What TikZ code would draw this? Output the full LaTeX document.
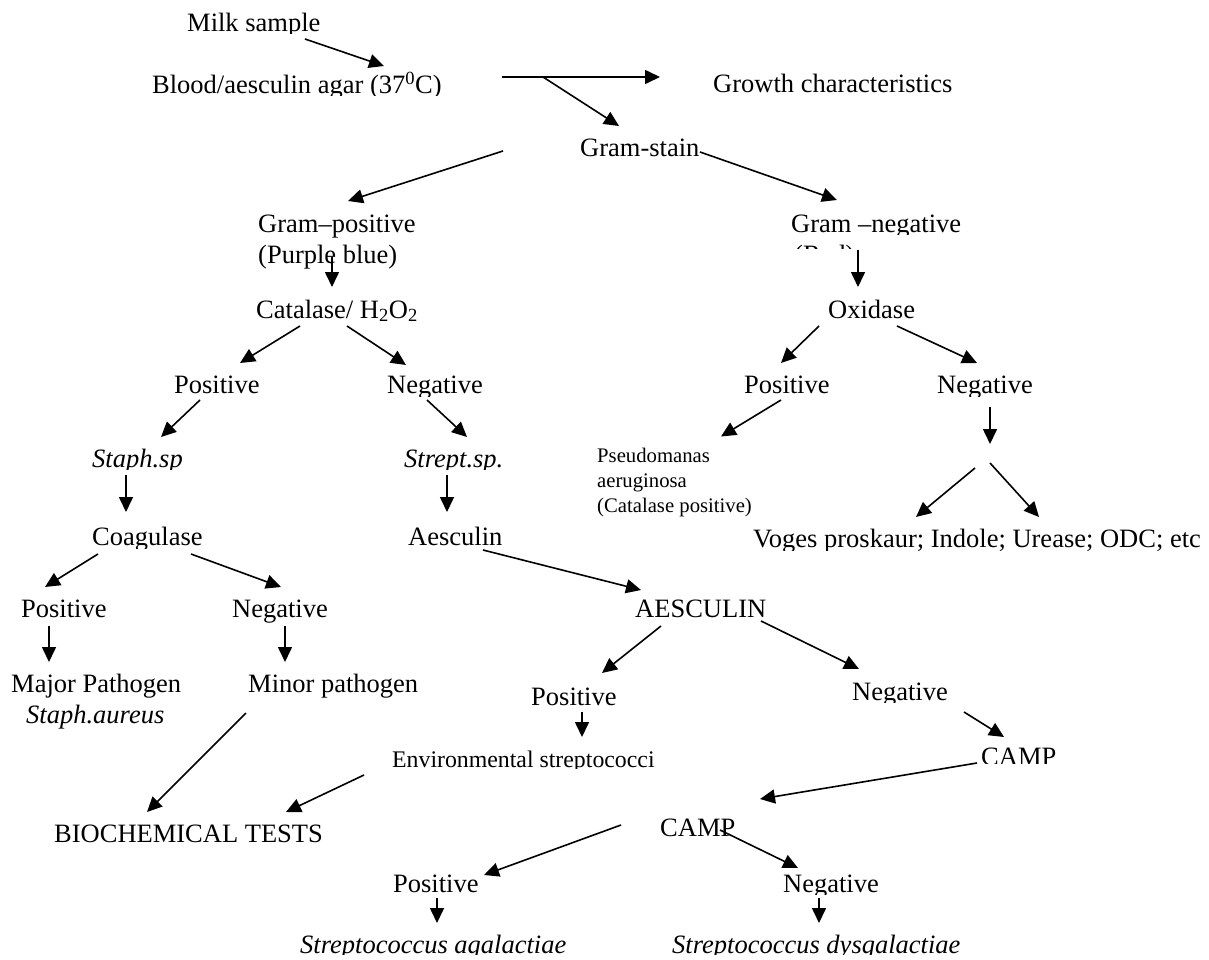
\documentclass[tikz,border=0pt]{standalone}
\usepackage{fontspec}
\setmainfont{Liberation Serif}
\usetikzlibrary{arrows.meta,calc}
\newcommand\cliptext[6]{\begin{scope}\clip (#3-30,#4-60) rectangle (#3+700,#5);\node[#1,anchor=base west] (#2) at (#3,#4) {#6};\end{scope}}
\tikzset{
 lbl/.style={inner sep=0pt, font=\fontsize{26.5}{30}\selectfont},
 lblit/.style={inner sep=0pt, font=\fontsize{26.5}{30}\selectfont\itshape},
 small/.style={inner sep=0pt, font=\fontsize{20.7}{25}\selectfont, align=left},
 mid/.style={inner sep=0pt, font=\fontsize{23.8}{28}\selectfont},
 arr/.style={line width=1.6pt, -{Triangle[length=15pt,width=14pt]}},
}
\begin{document}
\begin{tikzpicture}[x=1pt,y=-1pt]
\path[fill=white,use as bounding box] (0,0) rectangle (1209,960);
% nodes
\cliptext{lbl}{milk}{187}{32}{34}{Milk sample}
\cliptext{lbl}{blood}{152}{94}{96}{Blood/aesculin agar (37\textsuperscript{0}C)}
\node[lbl,anchor=base west] (growth) at (713,93) {Growth characteristics};
\node[lbl,anchor=base west] (gstain) at (580,157) {Gram-stain};
\node[lbl,anchor=base west] (gpos) at (258,232) {Gram–positive};
\node[lbl,anchor=base west] (purple) at (258,263) {(Purple blue)};
\cliptext{lbl}{gneg}{791}{232}{234}{Gram –negative}
\cliptext{lbl}{red}{794}{263}{248}{(Red)}
\cliptext{lbl}{cat}{256}{318}{321}{Catalase/ H\textsubscript{2}O\textsubscript{2}}
\node[lbl,anchor=base west] (oxi) at (828,318) {Oxidase};
\node[lbl,anchor=base west] (cpos) at (174,393) {Positive};
\cliptext{lbl}{cneg}{387}{393}{396}{Negative}
\node[lbl,anchor=base west] (opos) at (744,393) {Positive};
\cliptext{lbl}{oneg}{937}{393}{396}{Negative}
\cliptext{lblit}{staph}{92}{467}{469}{Staph.sp}
\cliptext{lblit}{strept}{404}{467}{469}{Strept.sp.}
\node[small,anchor=north west] (pseudo) at (597,447.5) {Pseudomanas\\aeruginosa\\(Catalase positive)};
\cliptext{lbl}{coag}{92}{545}{548}{Coagulase}
\node[lbl,anchor=base west] (aesc) at (408,545) {Aesculin};
\cliptext{lbl}{voges}{753}{547}{550}{Voges proskaur; Indole; Urease; ODC; etc}
\node[lbl,anchor=base west] (AESC) at (635,617) {AESCULIN};
\node[lbl,anchor=base west] (kpos) at (21,617) {Positive};
\node[lbl,anchor=base west] (kneg) at (232,617) {Negative};
\node[lbl,anchor=base west] (major) at (11,692) {Major Pathogen};
\node[lblit,anchor=base west] (saureus) at (26,723) {Staph.aureus};
\node[lbl,anchor=base west] (minor) at (248,692) {Minor pathogen};
\node[lbl,anchor=base west] (apos) at (531,705) {Positive};
\cliptext{lbl}{aneg}{852}{700}{702}{Negative}
\cliptext{mid}{env}{392}{767}{768}{Environmental streptococci}
\cliptext{lbl}{campa}{981}{765}{763}{CAMP}
\node[lbl,anchor=base west] (bio) at (54,842) {BIOCHEMICAL TESTS};
\node[lbl,anchor=base west] (campb) at (660,836) {CAMP};
\node[lbl,anchor=base west] (cposb) at (393,892) {Positive};
\cliptext{lbl}{cnegb}{783}{892}{894}{Negative}
\cliptext{lblit}{sagal}{300}{953}{954}{Streptococcus agalactiae}
\cliptext{lblit}{sdysg}{672}{953}{954}{Streptococcus dysgalactiae}
\coordinate (fork) at ($(oneg.base west)+(53,51)$);
% connectors
\draw[arr] ($(milk.base west)+(118,7)$) -- ($(blood.base west)+(232,-28)$);
\draw[arr] ($(blood.base west)+(350,-17)$) -- ($(growth.base west)+(-53,-16)$);
\draw[arr] ($(blood.base west)+(391,-17)$) -- ($(gstain.base west)+(39,-31)$);
\draw[arr] ($(gstain.base west)+(-77,-6)$) -- ($(gpos.base west)+(90,-31)$);
\draw[arr] ($(gstain.base west)+(120,-5)$) -- ($(gneg.base west)+(46,-32)$);
\draw[arr] ($(purple.base west)+(74,-6)$) -- ($(cat.base west)+(76,-31)$);
\draw[arr] ($(gneg.base west)+(67,18)$) -- ($(oxi.base west)+(30,-31)$);
\draw[arr] ($(cat.base west)+(44,8)$) -- ($(cpos.base west)+(66,-30)$);
\draw[arr] ($(cat.base west)+(91,8)$) -- ($(cneg.base west)+(19,-28)$);
\draw[arr] ($(oxi.base west)+(-9,8)$) -- ($(opos.base west)+(37,-30)$);
\draw[arr] ($(oxi.base west)+(69,8)$) -- ($(oneg.base west)+(40,-30)$);
\draw[arr] ($(cpos.base west)+(26,7)$) -- ($(staph.base west)+(69,-30)$);
\draw[arr] ($(cneg.base west)+(40,7)$) -- ($(strept.base west)+(63,-30)$);
\draw[arr] ($(opos.base west)+(37,7)$) -- ($(pseudo.north west)+(124,-11)$);
\draw[arr] ($(oneg.base west)+(53,14)$) -- (fork);
\draw[arr] ($(voges.base west)+(222,-79)$) -- ($(voges.base west)+(163,-30)$);
\draw[arr] ($(voges.base west)+(237,-84)$) -- ($(voges.base west)+(286,-30)$);
\draw[arr] ($(staph.base west)+(34,8)$) -- ($(coag.base west)+(34,-33)$);
\draw[arr] ($(strept.base west)+(43,8)$) -- ($(aesc.base west)+(39,-33)$);
\draw[arr] ($(coag.base west)+(6,9)$) -- ($(kpos.base west)+(24,-30)$);
\draw[arr] ($(coag.base west)+(99,9)$) -- ($(kneg.base west)+(49,-30)$);
\draw[arr] ($(aesc.base west)+(75,5)$) -- ($(AESC.base west)+(6,-27)$);
\draw[arr] ($(kpos.base west)+(28,9)$) -- ($(major.base west)+(38,-30)$);
\draw[arr] ($(kneg.base west)+(53,9)$) -- ($(minor.base west)+(37,-30)$);
\draw[arr] ($(AESC.base west)+(26,9)$) -- ($(apos.base west)+(71,-32)$);
\draw[arr] ($(AESC.base west)+(126,4)$) -- ($(aneg.base west)+(7,-31)$);
\draw[arr] ($(apos.base west)+(51,7)$) -- ($(env.base west)+(190,-30)$);
\draw[arr] ($(aneg.base west)+(112,12)$) -- ($(campa.base west)+(23,-28)$);
\draw[arr] ($(minor.base west)+(-2,21)$) -- ($(bio.base west)+(93,-30)$);
\draw[arr] ($(env.base west)+(-28,8)$) -- ($(bio.base west)+(232,-30)$);
\draw[arr] ($(campa.base west)+(-4,-2)$) -- ($(campb.base west)+(100,-37)$);
\draw[arr] ($(campb.base west)+(-39,-11)$) -- ($(cposb.base west)+(91,-17)$);
\draw[arr] ($(campb.base west)+(60,-6)$) -- ($(cnegb.base west)+(15,-24)$);
\draw[arr] ($(cposb.base west)+(44,6)$) -- ($(sagal.base west)+(137,-30)$);
\draw[arr] ($(cnegb.base west)+(36,6)$) -- ($(sdysg.base west)+(147,-30)$);
\end{tikzpicture}
\end{document}
